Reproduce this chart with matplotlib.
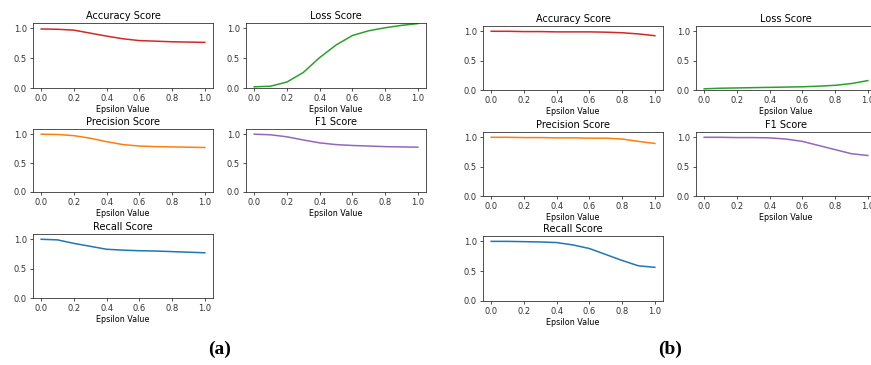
import matplotlib
matplotlib.use("Agg")
import matplotlib.pyplot as plt

eps = [0.0, 0.1, 0.2, 0.3, 0.4, 0.5, 0.6, 0.7, 0.8, 0.9, 1.0]

# Panel (a)
acc_a = [0.99, 0.985, 0.97, 0.92, 0.87, 0.825, 0.795, 0.785, 0.775, 0.77, 0.765]
loss_a = [0.02, 0.03, 0.10, 0.26, 0.51, 0.72, 0.88, 0.96, 1.01, 1.05, 1.08]
prec_a = [1.0, 0.995, 0.975, 0.93, 0.87, 0.82, 0.795, 0.785, 0.78, 0.775, 0.77]
f1_a = [1.0, 0.99, 0.955, 0.90, 0.85, 0.82, 0.805, 0.795, 0.785, 0.78, 0.775]
rec_a = [1.0, 0.99, 0.93, 0.88, 0.83, 0.815, 0.805, 0.80, 0.79, 0.78, 0.77]

# Panel (b)
acc_b = [1.0, 1.0, 0.995, 0.995, 0.99, 0.99, 0.99, 0.985, 0.975, 0.955, 0.925]
loss_b = [0.02, 0.03, 0.035, 0.04, 0.045, 0.05, 0.055, 0.065, 0.08, 0.11, 0.16]
prec_b = [1.0, 1.0, 0.995, 0.995, 0.99, 0.99, 0.985, 0.985, 0.97, 0.93, 0.895]
f1_b = [1.0, 1.0, 0.995, 0.995, 0.99, 0.97, 0.93, 0.86, 0.79, 0.72, 0.69]
rec_b = [1.0, 1.0, 0.995, 0.99, 0.98, 0.94, 0.88, 0.78, 0.68, 0.59, 0.565]

titles = ["Accuracy Score", "Loss Score", "Precision Score", "F1 Score", "Recall Score"]
colors = ["tab:red", "tab:green", "tab:orange", "tab:purple", "tab:blue"]
xticks = [0.0, 0.2, 0.4, 0.6, 0.8, 1.0]
yticks = [0.0, 0.5, 1.0]

W, H = 871, 365
fig = plt.figure(figsize=(W / 100, H / 100), dpi=100)


def add_ax(left, top, right, bottom):
    return fig.add_axes([left / W, 1 - bottom / H, (right - left) / W, (bottom - top) / H])


def draw(ax, y, title, color):
    ax.plot(eps, y, color=color, lw=1.1)
    ax.set_ylim(0, 1.09)
    ax.set_xlim(-0.05, 1.05)
    ax.set_xticks(xticks)
    ax.set_yticks(yticks)
    ax.set_xticklabels([f"{t:.1f}" for t in xticks])
    ax.set_yticklabels([f"{t:.1f}" for t in yticks])
    ax.tick_params(labelsize=6, length=2.5, width=0.6, pad=2, colors="#333333")
    ax.set_title(title, fontsize=7, pad=3)
    ax.set_xlabel("Epsilon Value", fontsize=5.8, labelpad=1.5)
    for s in ax.spines.values():
        s.set_linewidth(0.6)
        s.set_color("#333333")


# layout boxes (left, top, right, bottom) in pixels
boxes_a = [(33, 23, 213, 88), (246, 23, 426, 88),
           (33, 129, 213, 192), (246, 129, 426, 192),
           (33, 234, 213, 298)]
boxes_b = [(483, 26, 663, 90), (696, 26, 876, 90),
           (483, 132, 663, 196), (696, 132, 876, 196),
           (483, 236, 663, 301)]

data_a = [acc_a, loss_a, prec_a, f1_a, rec_a]
data_b = [acc_b, loss_b, prec_b, f1_b, rec_b]

for box, y, t, c in zip(boxes_a, data_a, titles, colors):
    draw(add_ax(*box), y, t, c)
for box, y, t, c in zip(boxes_b, data_b, titles, colors):
    draw(add_ax(*box), y, t, c)

fig.text(220 / W, 1 - 349 / H, "(a)", ha="center", va="center",
         fontsize=14, fontweight="bold", family="Liberation Serif")
fig.text(670 / W, 1 - 349 / H, "(b)", ha="center", va="center",
         fontsize=14, fontweight="bold", family="Liberation Serif")

fig.savefig("out.png", dpi=100)
